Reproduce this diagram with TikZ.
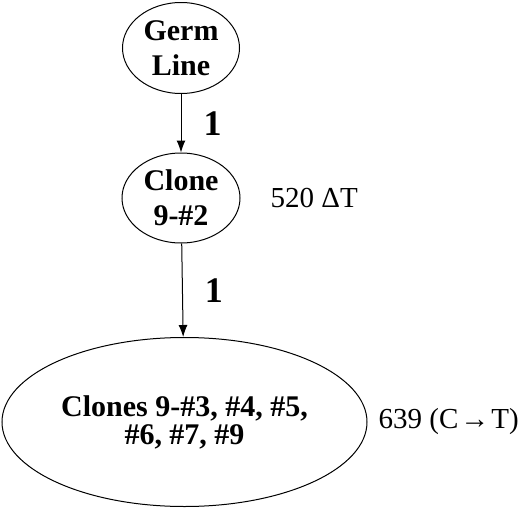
\documentclass[tikz,border=0pt]{standalone}
\usepackage{fontspec}
\setmainfont{Liberation Serif}
\usetikzlibrary{shapes.geometric,positioning,arrows.meta}

\begin{document}
\begin{tikzpicture}[x=1pt, y=1pt,
  every node/.style = {align=center, inner sep=0pt},
  cell/.style = {shape=ellipse, draw, line width=1pt,
    font=\fontsize{30}{35}\selectfont\bfseries},
  count/.style = {font=\fontsize{36}{36}\selectfont\bfseries},
  change/.style = {font=\fontsize{29}{34}\selectfont},
  descent/.style = {draw, line width=1pt, -{Latex[length=12pt,width=9pt]}}]
  \useasboundingbox (0,0) rectangle (520,-509);
  \node[cell, minimum width=117pt, minimum height=91pt] (germ) at (181,-48) {Germ\\Line};
  \node[cell, minimum width=118pt, minimum height=90pt] (clone) at (181,-198) {Clone\\9-\#2};
  \node[cell, minimum width=365pt, minimum height=169pt,
    font=\fontsize{30}{28}\selectfont\bfseries] (clones) at (184.5,-422)
    {Clones 9-\#3, \#4, \#5,\\\#6, \#7, \#9};
  \node[change, right=30pt of clone] (cloneMut) {520 ΔT};
  \node[change, right=11pt of clones] (clonesMut) {639 (C\kern2pt→\kern2pt T)};
  \draw[descent] (germ) -- node[count, right=22pt] (stepA) {1} (clone);
  \draw[descent] (clone) -- node[count, right=22pt] (stepB) {1} (clones);
\end{tikzpicture}
\end{document}
